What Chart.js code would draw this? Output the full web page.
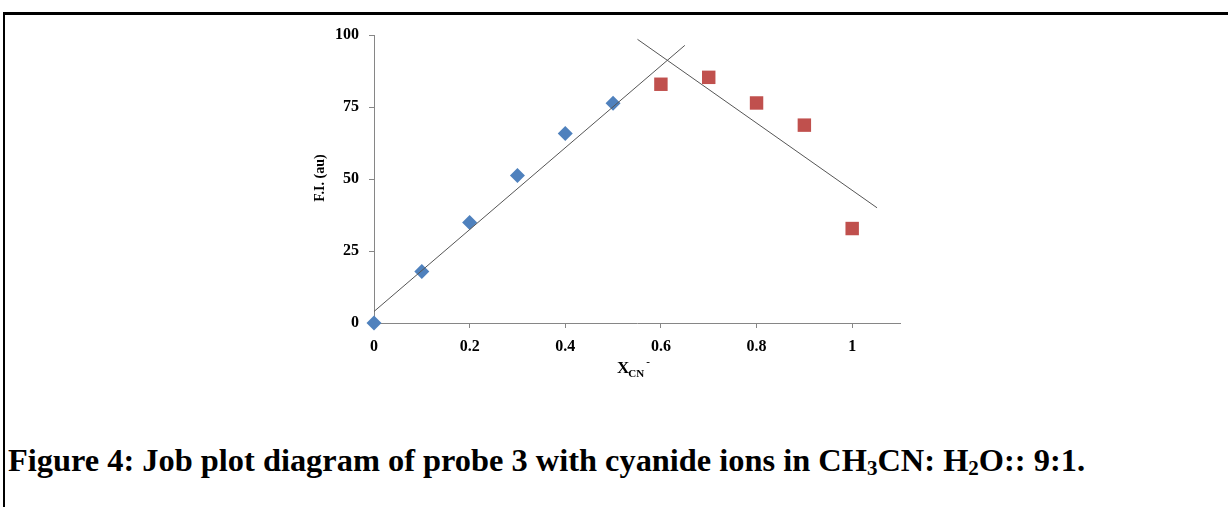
<!DOCTYPE html>
<html>
<head>
<meta charset="utf-8">
<script src="https://cdn.jsdelivr.net/npm/chart.js@4.4.1/dist/chart.umd.min.js"></script>
<style>
  html, body { margin: 0; padding: 0; background: #fff; }
  body { width: 1228px; height: 507px; position: relative; overflow: hidden; }
  #frame { position: absolute; left: 3px; top: 12px; width: 1225px; height: 495px;
           border-top: 3px solid #000; border-left: 2px solid #000; box-sizing: border-box; }
  #wrap { position: absolute; left: 0; top: 0; width: 1228px; height: 400px; }
  #caption { position: absolute; left: 8px; top: 445px; font-family: 'Liberation Serif', 'Times New Roman', serif;
             font-weight: bold; font-size: 31px; line-height: 1; color: #000; white-space: nowrap;
             transform-origin: 0 0; }
  #caption sub { font-size: 65%; vertical-align: -0.2em; line-height: 0; }
</style>
</head>
<body>
<div id="frame"></div>
<div id="wrap"><canvas id="c" width="1228" height="400"></canvas></div>
<div id="caption">Figure 4: Job plot diagram of probe 3 with cyanide ions in CH<sub>3</sub>CN: H<sub>2</sub>O:: 9:1.</div>
<script>
// ---- data ----
const blueX = [0, 0.1, 0.2, 0.3, 0.4, 0.5];
const blueY = [0, 17.9, 34.9, 51.2, 65.8, 76.3];
const redX = [0.6, 0.7, 0.8, 0.9, 1.0];
const redY = [82.9, 85.3, 76.4, 68.7, 32.8];
const trend1X = [0, 0.65];
const trend1Y = [4.0, 96.4];
const trend2X = [0.551, 1.052];
const trend2Y = [98.5, 40.0];
const xTicks = [0, 0.2, 0.4, 0.6, 0.8, 1];
const xTickLabels = ['0', '0.2', '0.4', '0.6', '0.8', '1'];
const yTicks = [0, 25, 50, 75, 100];
const yTickLabels = ['0', '25', '50', '75', '100'];
const yTitle = 'F.I. (au)';

// stretch caption to the reference width
(function () {
  const cap = document.getElementById('caption');
  const w = cap.getBoundingClientRect().width;
  cap.style.transform = 'scaleX(' + (1077 / w) + ')';
})();

const pts = (xs, ys) => xs.map((x, i) => ({ x: x, y: ys[i] }));
const serif = "'Liberation Serif', 'Times New Roman', serif";

const titlePlugin = {
  id: 'titles',
  afterDraw(chart) {
    const ctx = chart.ctx;
    ctx.save();
    ctx.fillStyle = '#000';
    // y title
    ctx.translate(320, 178);
    ctx.rotate(-Math.PI / 2);
    ctx.font = 'bold 14px ' + serif;
    ctx.textAlign = 'center';
    ctx.textBaseline = 'middle';
    ctx.fillText(yTitle, 0, 0);
    ctx.restore();
    // x title X_CN^-
    ctx.save();
    ctx.fillStyle = '#000';
    ctx.textBaseline = 'alphabetic';
    ctx.textAlign = 'left';
    ctx.font = 'bold 17px ' + serif;
    const wX = ctx.measureText('X').width;
    ctx.font = 'bold 11px ' + serif;
    const wCN = ctx.measureText('CN').width;
    const x0 = 617;
    const base = 373;
    ctx.font = 'bold 17px ' + serif;
    ctx.fillText('X', x0, base);
    ctx.font = 'bold 11px ' + serif;
    ctx.fillText('CN', x0 + wX - 1, base + 3.5);
    ctx.fillText('-', x0 + wX + wCN + 1, base - 8);
    ctx.restore();
  }
};

new Chart(document.getElementById('c'), {
  type: 'scatter',
  data: {
    datasets: [
      { data: pts(trend1X, trend1Y), showLine: true, borderColor: '#555555', borderWidth: 1,
        pointRadius: 0, fill: false, order: 0 },
      { data: pts(trend2X, trend2Y), showLine: true, borderColor: '#555555', borderWidth: 1,
        pointRadius: 0, fill: false, order: 0 },
      { data: pts(blueX, blueY), pointStyle: 'rectRot', pointRadius: 7.5, backgroundColor: '#4F81BD',
        borderColor: '#4F81BD', borderWidth: 0, order: 1, clip: false },
      { data: pts(redX, redY), pointStyle: 'rect', pointRadius: 9.5, backgroundColor: '#C0504D',
        borderColor: '#C0504D', borderWidth: 0, order: 1, clip: false }
    ]
  },
  options: {
    responsive: false,
    animation: false,
    events: [],
    layout: { padding: { left: 314, right: 328, top: 35, bottom: 27 } },
    plugins: { legend: { display: false }, tooltip: { enabled: false } },
    scales: {
      x: {
        type: 'linear', min: 0, max: 1.1,
        afterBuildTicks: s => { s.ticks = xTicks.map(v => ({ value: v })); },
        afterFit: s => { s.height = 50; },
        grid: { drawOnChartArea: false, drawTicks: true, tickLength: 5, color: '#868686', tickColor: '#868686' },
        border: { color: '#868686', width: 1 },
        ticks: { color: '#000', font: { family: serif, weight: 'bold', size: 16 }, padding: 9,
                 maxRotation: 0, autoSkip: false,
                 callback: (v) => { const i = xTicks.findIndex(t => Math.abs(t - v) < 1e-9); return i >= 0 ? xTickLabels[i] : ''; } }
      },
      y: {
        type: 'linear', min: 0, max: 100,
        afterBuildTicks: s => { s.ticks = yTicks.map(v => ({ value: v })); },
        afterFit: s => { s.width = 60; },
        grid: { drawOnChartArea: false, drawTicks: true, tickLength: 5, color: '#868686', tickColor: '#868686' },
        border: { color: '#868686', width: 1 },
        ticks: { color: '#000', font: { family: serif, weight: 'bold', size: 16 }, padding: 10,
                 autoSkip: false,
                 callback: (v) => { const i = yTicks.indexOf(v); return i >= 0 ? yTickLabels[i] : ''; } }
      }
    }
  },
  plugins: [titlePlugin]
});
</script>
</body>
</html>
